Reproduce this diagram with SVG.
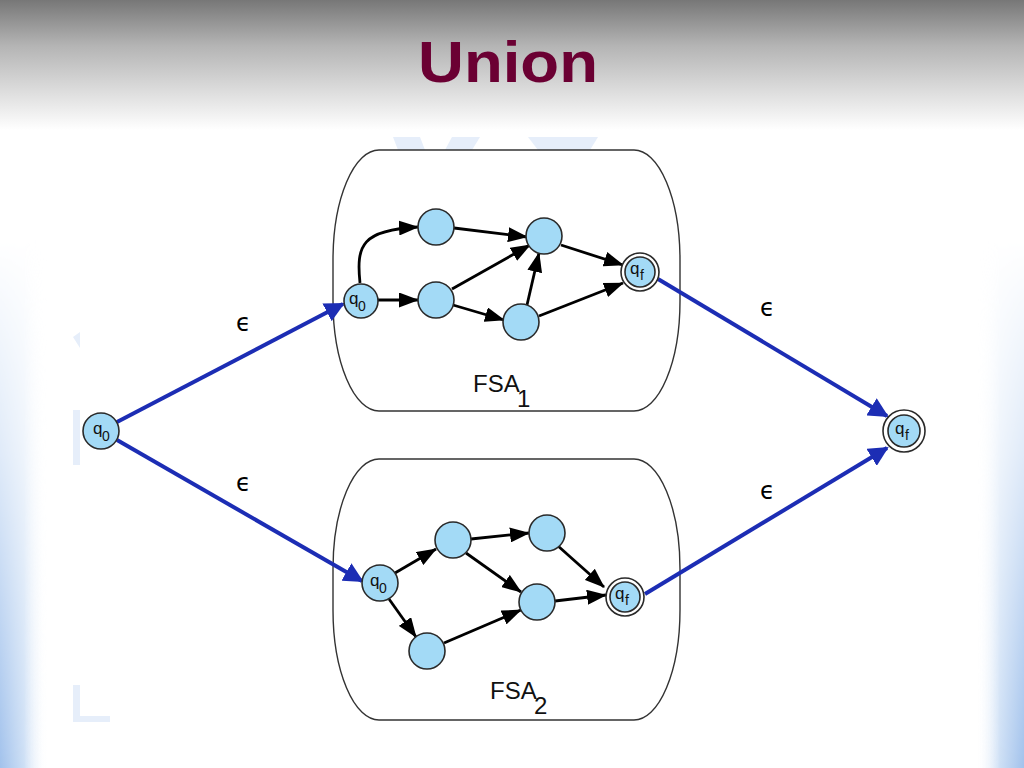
<svg xmlns="http://www.w3.org/2000/svg" width="1024" height="768" viewBox="0 0 1024 768">
<defs>
<linearGradient id="topg" x1="0" y1="0" x2="0" y2="1">
<stop offset="0" stop-color="#777777"/>
<stop offset="0.35" stop-color="#b4b4b4"/>
<stop offset="1" stop-color="#ffffff"/>
</linearGradient>
<linearGradient id="lg" x1="0" y1="0" x2="1" y2="0">
<stop offset="0" stop-color="#a2c2ec"/>
<stop offset="0.5" stop-color="#cddff5"/>
<stop offset="1" stop-color="#ffffff" stop-opacity="0"/>
</linearGradient>
<linearGradient id="rg" x1="1" y1="0" x2="0" y2="0">
<stop offset="0" stop-color="#a2c2ec"/>
<stop offset="0.5" stop-color="#cddff5"/>
<stop offset="1" stop-color="#ffffff" stop-opacity="0"/>
</linearGradient>
<linearGradient id="vm" x1="0" y1="0" x2="0" y2="1">
<stop offset="0" stop-color="#000"/>
<stop offset="0.4" stop-color="#555"/>
<stop offset="1" stop-color="#fff"/>
</linearGradient>
<mask id="vmask" maskUnits="userSpaceOnUse" x="0" y="0" width="1024" height="768">
<rect x="0" y="240" width="1024" height="528" fill="url(#vm)"/>
</mask>
<marker id="ah2" viewBox="0 0 20 15" refX="19" refY="7.5" markerWidth="20" markerHeight="15" markerUnits="userSpaceOnUse" orient="auto">
<path d="M0,0 L20,7.5 L0,15 Z" fill="#000"/>
</marker>
<marker id="ahb" viewBox="0 0 10 10" refX="9" refY="5" markerWidth="5" markerHeight="5" orient="auto">
<path d="M0,0 L10,5 L0,10 Z" fill="#1c2db4"/>
</marker>
<style>
.st{fill:#a3daf6;stroke:#2a2a2a;stroke-width:1.6}
.ring{fill:#ffffff;stroke:#2a2a2a;stroke-width:1.6}
.box{fill:#ffffff;stroke:#333;stroke-width:1.4}
.e{stroke:#000;stroke-width:2.8;fill:none;marker-end:url(#ah2)}
.be{stroke:#1c2db4;stroke-width:4;fill:none;marker-end:url(#ahb)}
.lbl{font-family:"Liberation Sans",Arial,sans-serif;fill:#111}
.q{font-size:17px}
.sb{font-size:14px}
.eps{font-family:"DejaVu Sans","Noto Sans",sans-serif;font-size:24px;fill:#000}
.wm{fill:#e6eefa}
</style>
</defs>
<rect x="0" y="0" width="1024" height="768" fill="#ffffff"/>
<rect x="0" y="0" width="1024" height="130" fill="url(#topg)"/>
<g mask="url(#vmask)">
<rect x="0" y="240" width="48" height="528" fill="url(#lg)"/>
<rect x="976" y="240" width="48" height="528" fill="url(#rg)"/>
</g>
<g id="watermark">
<path class="wm" d="M73,337 L80,332 L80,348 Z"/>
<rect class="wm" x="73" y="410" width="7" height="55"/>
<path class="wm" d="M73,685 L80,685 L80,716 L110,716 L110,722 L73,722 Z"/>
<path class="wm" d="M393,137 L420,137 L425,150 L398,150 Z"/>
<path class="wm" d="M452,137 L480,137 L472,150 L445,150 Z"/>
<path class="wm" d="M528,137 L598,137 L590,150 L538,150 Z"/>
</g>
<text x="508" y="82" text-anchor="middle" font-family="Liberation Sans,Arial,sans-serif" font-weight="bold" font-size="58" fill="#6b0033" textLength="180" lengthAdjust="spacingAndGlyphs">Union</text>
<g id="fsa1-box"><rect class="box" x="333" y="150" width="347" height="261" rx="46" ry="110"/></g>
<g id="fsa2-box"><rect class="box" x="333" y="459" width="347" height="261" rx="46" ry="110"/></g>
<g id="connectors">
<path class="e" d="M360,283 C356,245 362,230 418,227"/>
<line class="e" x1="378" y1="300" x2="418" y2="300"/>
<line class="e" x1="454" y1="228" x2="527" y2="237"/>
<line class="e" x1="452" y1="289" x2="530" y2="245"/>
<line class="e" x1="453" y1="305" x2="504" y2="320"/>
<line class="e" x1="527" y1="305" x2="539" y2="253"/>
<line class="e" x1="561" y1="245" x2="623" y2="265"/>
<line class="e" x1="539" y1="316" x2="623" y2="283"/>
<line class="e" x1="395" y1="573" x2="436" y2="549"/>
<line class="e" x1="389" y1="599" x2="416" y2="637"/>
<line class="e" x1="471" y1="539" x2="529" y2="533"/>
<line class="e" x1="466" y1="553" x2="521" y2="592"/>
<line class="e" x1="444" y1="643" x2="521" y2="610"/>
<line class="e" x1="558" y1="546" x2="604" y2="587"/>
<line class="e" x1="555" y1="601" x2="606" y2="595"/>
<line class="be" x1="117" y1="422" x2="343" y2="304"/>
<line class="be" x1="117" y1="440" x2="362" y2="581"/>
<line class="be" x1="658" y1="279" x2="887" y2="416"/>
<line class="be" x1="645" y1="594" x2="887" y2="448"/>
</g>
<g id="n-start"><circle class="st" cx="101" cy="431" r="18"/><text class="lbl q" x="93" y="434">q</text><text class="lbl sb" x="102" y="441">0</text></g>
<g id="n-final"><circle class="ring" cx="904" cy="431" r="21"/><circle class="st" cx="904" cy="431" r="16"/><text class="lbl q" x="895" y="434">q</text><text class="lbl sb" x="905" y="440">f</text></g>
<g id="f1-q0"><circle class="st" cx="361" cy="301" r="17"/><text class="lbl q" x="349" y="304">q</text><text class="lbl sb" x="358" y="311">0</text></g>
<g id="f1-a"><circle class="st" cx="436" cy="227" r="18"/></g>
<g id="f1-b"><circle class="st" cx="436" cy="300" r="18"/></g>
<g id="f1-c"><circle class="st" cx="544" cy="236" r="18"/></g>
<g id="f1-d"><circle class="st" cx="521" cy="322" r="18"/></g>
<g id="f1-qf"><circle class="ring" cx="640" cy="272" r="19"/><circle class="st" cx="640" cy="272" r="15"/><text class="lbl q" x="630" y="274">q</text><text class="lbl sb" x="640" y="280">f</text></g>
<g id="f2-q0"><circle class="st" cx="380" cy="583" r="18"/><text class="lbl q" x="370" y="586">q</text><text class="lbl sb" x="379" y="593">0</text></g>
<g id="f2-a"><circle class="st" cx="453" cy="540" r="18"/></g>
<g id="f2-b"><circle class="st" cx="427" cy="651" r="18"/></g>
<g id="f2-c"><circle class="st" cx="547" cy="533" r="18"/></g>
<g id="f2-d"><circle class="st" cx="537" cy="602" r="18"/></g>
<g id="f2-qf"><circle class="ring" cx="625" cy="597" r="19"/><circle class="st" cx="625" cy="597" r="15"/><text class="lbl q" x="615" y="599">q</text><text class="lbl sb" x="625" y="605">f</text></g>
<text class="lbl" x="473" y="392" font-size="24">FSA</text><text class="lbl" x="517" y="407" font-size="24">1</text>
<text class="lbl" x="490" y="699" font-size="24">FSA</text><text class="lbl" x="534" y="714" font-size="24">2</text>
<text class="eps" x="236" y="331">ϵ</text>
<text class="eps" x="236" y="491">ϵ</text>
<text class="eps" x="760" y="316">ϵ</text>
<text class="eps" x="760" y="499">ϵ</text>
</svg>
